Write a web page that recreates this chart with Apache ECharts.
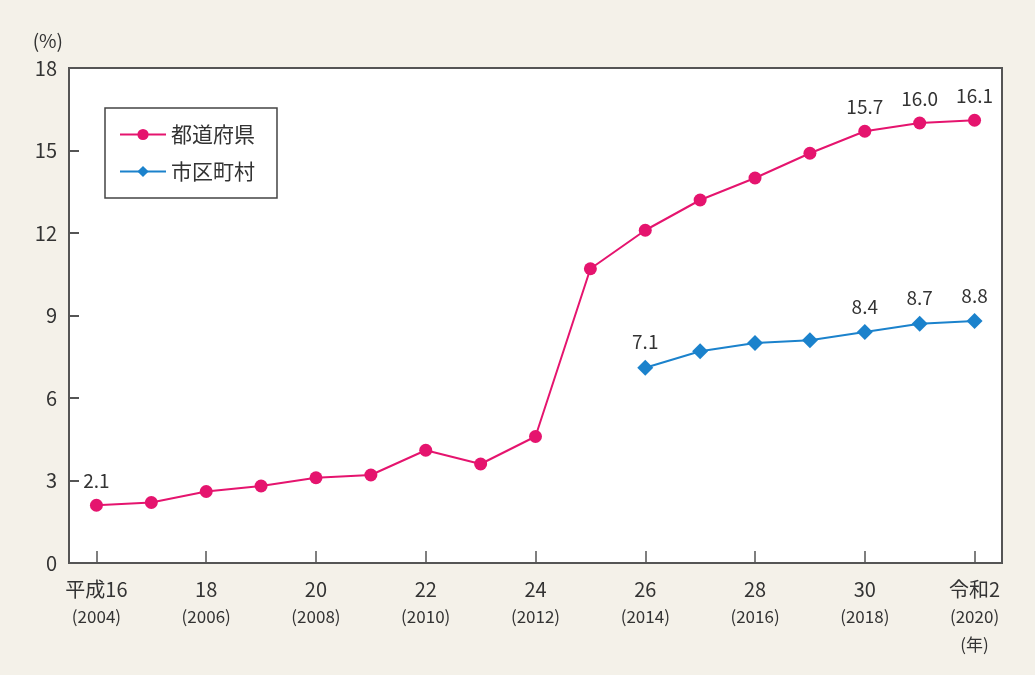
<!DOCTYPE html>
<html>
<head>
<meta charset="utf-8">
<script src="https://cdn.jsdelivr.net/npm/echarts@6/dist/echarts.min.js"></script>
<style>
html,body{margin:0;padding:0;background:#f4f1e9;}
#c{width:1035px;height:675px;}
</style>
</head>
<body>
<div id="c"></div>
<script>
var eraLabels = ['平成16','17','18','19','20','21','22','23','24','25','26','27','28','29','30','31','令和2'];
var years = ['2004','2005','2006','2007','2008','2009','2010','2011','2012','2013','2014','2015','2016','2017','2018','2019','2020'];
var prefValues = [2.1,2.2,2.6,2.8,3.1,3.2,4.1,3.6,4.6,10.7,12.1,13.2,14.0,14.9,15.7,16.0,16.1];
var muniValues = [null,null,null,null,null,null,null,null,null,null,7.1,7.7,8.0,8.1,8.4,8.7,8.8];
var prefLabelYears = ['2004','2018','2019','2020'];
var muniLabelYears = ['2014','2018','2019','2020'];
var yTicks = [0,3,6,9,12,15,18];
var seriesNames = ['都道府県','市区町村'];

var FONT = '"Noto Sans CJK JP","Noto Sans",sans-serif';
var chart = echarts.init(document.getElementById('c'));

function mkData(vals, showYears){
  return vals.map(function(v,i){
    return {value:v, label:{show: showYears.indexOf(years[i])>=0}};
  });
}

chart.setOption({
  backgroundColor:'#f4f1e9',
  textStyle:{fontFamily:FONT},
  grid:{left:69,right:33,top:68,bottom:112,show:true,backgroundColor:'#ffffff',borderColor:'#555555',borderWidth:2,z:0},
  legend:{
    orient:'vertical',left:105,top:108,
    padding:[16,22,16,14],itemGap:16,itemWidth:46,itemHeight:14,
    backgroundColor:'#ffffff',borderColor:'#444444',borderWidth:1.5,
    textStyle:{fontSize:21,color:'#333',fontFamily:FONT},
    data:seriesNames
  },
  xAxis:{
    type:'category',data:eraLabels,boundaryGap:true,z:5,
    axisLine:{lineStyle:{color:'#555',width:2}},
    axisTick:{show:true,inside:true,length:12,alignWithLabel:true,lineStyle:{color:'#555',width:1.5}},
    axisLabel:{
      interval:1,margin:12,color:'#333',
      formatter:function(v,i){
        var s='{a|'+v+'}\n{b|('+years[i]+')}';
        if(i===eraLabels.length-1) s+='\n{b|(年)}';
        return s;
      },
      rich:{
        a:{fontSize:20,lineHeight:28,color:'#333',fontFamily:FONT},
        b:{fontSize:17,lineHeight:28,color:'#333',fontFamily:FONT}
      }
    }
  },
  yAxis:[{
    type:'value',min:0,max:18,interval:3,z:5,
    name:'(%)',nameLocation:'end',nameGap:18,
    nameTextStyle:{fontSize:19,color:'#333',align:'right',padding:[0,6,0,0]},
    axisLine:{show:true,onZero:false,lineStyle:{color:'#555',width:2}},
    axisTick:{show:false},
    splitLine:{show:false},
    axisLabel:{fontSize:20,color:'#333',margin:12,
      formatter:function(v){return yTicks.indexOf(v)>=0?String(v):'';}}
  },{
    type:'value',min:0,max:18,interval:3,z:5,position:'left',offset:-10,
    axisLine:{show:false,onZero:false},
    axisTick:{show:true,inside:false,length:10,lineStyle:{color:'#555',width:2}},
    splitLine:{show:false},
    axisLabel:{show:false}
  }],
  series:[
    {name:seriesNames[0],type:'line',data:mkData(prefValues,prefLabelYears),
     symbol:'circle',symbolSize:13,z:6,
     itemStyle:{color:'#e5146e'},lineStyle:{color:'#e5146e',width:2},
     label:{position:'top',distance:8,fontSize:19,color:'#333',
       formatter:function(p){return p.value.toFixed(1);}}
    },
    {name:seriesNames[1],type:'line',data:mkData(muniValues,muniLabelYears),
     symbol:'diamond',symbolSize:16,connectNulls:false,z:6,
     itemStyle:{color:'#1b82cc'},lineStyle:{color:'#1b82cc',width:2},
     label:{position:'top',distance:8,fontSize:19,color:'#333',
       formatter:function(p){return p.value.toFixed(1);}}
    }
  ],
  animation:false
});
</script>
</body>
</html>
